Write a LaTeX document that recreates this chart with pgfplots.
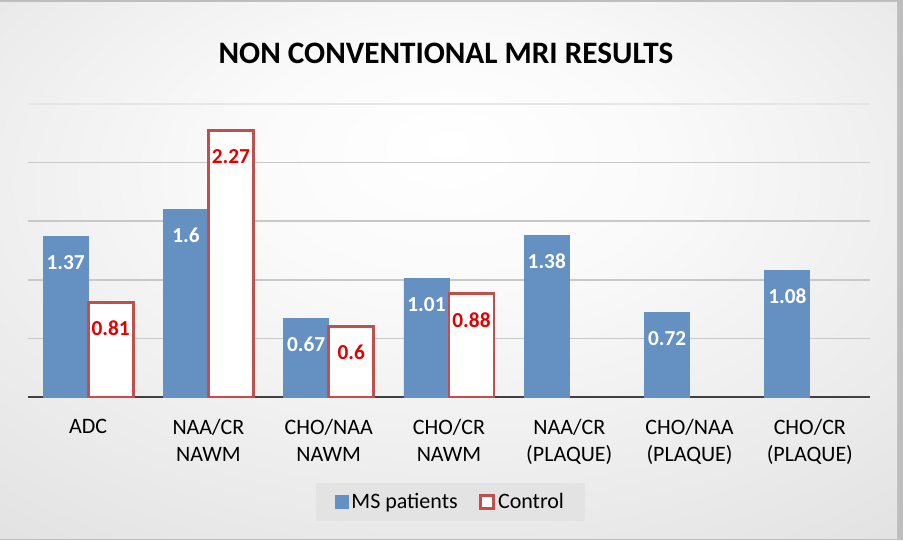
\documentclass[border=0pt]{standalone}
\usepackage{pgfplots}
\pgfplotsset{compat=1.18}
\usepackage{fontspec}
\setmainfont{Carlito}
\definecolor{msblue}{HTML}{6590C2}
\definecolor{ctrlred}{HTML}{C0504D}
\definecolor{lblred}{HTML}{E00000}
\definecolor{gridgray}{HTML}{C8C8C8}
\definecolor{topgrid}{HTML}{E6E6E6}
\definecolor{basegray}{HTML}{404040}
\definecolor{framegray}{HTML}{BDBDBD}
\definecolor{legfill}{HTML}{E3E3E3}
\pgfdeclareradialshading{chartbg}{\pgfpoint{0bp}{12bp}}{%
  color(0bp)=(white); color(12bp)=(white!98!black); color(45bp)=(black!13); color(72bp)=(black!21)}

\begin{document}
\begin{tikzpicture}
% background, 1px = 0.75pt
\begin{scope}[x=0.75pt,y=0.75pt]
  \fill[framegray] (0,0) rectangle (903,540);
  \shade[shading=chartbg] (0,2) rectangle (897,537);
\end{scope}

\begin{axis}[
  at={(21pt,107.25pt)}, anchor=south west,
  scale only axis,
  width=631.5pt, height=219.75pt,
  ybar=0pt, bar width=33.75pt,
  xmin=-0.5, xmax=6.5,
  ymin=0, ymax=2.5,
  xtick={0,1,2,3,4,5,6},
  xticklabels={ADC, {NAA/CR\\NAWM}, {CHO/NAA\\NAWM}, {CHO/CR\\NAWM},
    {NAA/CR\\(PLAQUE)}, {CHO/NAA\\(PLAQUE)}, {CHO/CR\\(PLAQUE)}},
  xticklabel style={align=center, font=\fontsize{16.5}{20.25}\selectfont, yshift=-13pt},
  ytick={0.5,1,1.5,2}, yticklabels={},
  ymajorgrids,
  grid style={gridgray, line width=1.3pt},
  major tick length=0pt,
  axis line style={draw=none},
  extra y ticks={0}, extra y tick labels={},
  extra y tick style={grid style={basegray, line width=2.2pt}},
  clip=false,
  legend style={at={(0.502,-0.358)}, anchor=center, legend columns=2,
    draw=none, fill=legfill, font=\fontsize{16.5}{20}\selectfont,
    inner xsep=14pt, inner ysep=6pt,
    /tikz/every even column/.append style={column sep=14pt}},
  legend image code/.code={\draw[#1] (0pt,-5pt) rectangle (10pt,5pt);},
]
% faint top gridline
\draw[topgrid, line width=1.3pt] (axis cs:-0.5,2.5) -- (axis cs:6.5,2.5);
\addplot[fill=msblue, draw=msblue, line width=0.6pt,
  nodes near coords, point meta=explicit symbolic,
  every node near coord/.append style={anchor=center, yshift=-19.5pt,
    text=white, font=\bfseries\fontsize{16}{16}\selectfont}]
  coordinates {(0,1.37)[1.37] (1,1.6)[1.6] (2,0.67)[0.67] (3,1.01)[1.01]
    (4,1.38)[1.38] (5,0.72)[0.72] (6,1.08)[1.08]};
\addplot[fill=white, draw=ctrlred, line width=2.2pt,
  nodes near coords, point meta=explicit symbolic,
  every node near coord/.append style={anchor=center, yshift=-19.5pt,
    text=lblred, font=\bfseries\fontsize{16}{16}\selectfont}]
  coordinates {(0,0.81)[0.81] (1,2.27)[2.27] (2,0.6)[0.6] (3,0.88)[0.88]};
\legend{MS patients, Control}
\end{axis}

\node[font=\bfseries\fontsize{23.4}{28}\selectfont] at (334.5pt,365.25pt)
  {NON CONVENTIONAL MRI RESULTS};

\pgfresetboundingbox
\useasboundingbox (0,0) rectangle (677.25pt,405pt);
\end{tikzpicture}
\end{document}
